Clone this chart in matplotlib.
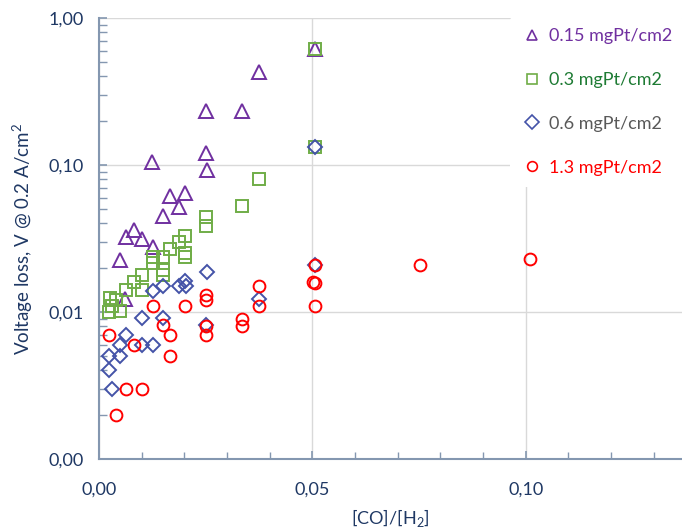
import matplotlib
matplotlib.use("Agg")
import matplotlib.pyplot as plt
from matplotlib.ticker import FixedLocator, FuncFormatter, LogLocator, NullFormatter, MultipleLocator

plt.rcParams['font.family'] = ['Lato', 'DejaVu Sans']
plt.rcParams['mathtext.fontset'] = 'custom'
plt.rcParams['mathtext.rm'] = 'Lato'

# ---- data ----
x_015 = [0.0049, 0.0060, 0.00625, 0.0083, 0.0100, 0.0124, 0.0126, 0.0151, 0.0166,
         0.0188, 0.0202, 0.0250, 0.0251, 0.0252, 0.0336, 0.0376, 0.0505]
y_015 = [0.0226, 0.0122, 0.0322, 0.0362, 0.0312, 0.104, 0.0278, 0.045, 0.0615,
         0.052, 0.064, 0.234, 0.121, 0.0925, 0.234, 0.431, 0.62]

x_03 = [0.0024, 0.0026, 0.0030, 0.0041, 0.0049, 0.00625, 0.0083, 0.0100, 0.0100,
        0.0126, 0.0126, 0.0151, 0.0151, 0.0151, 0.0166, 0.0188, 0.0202, 0.0202,
        0.0202, 0.0250, 0.0251, 0.0336, 0.0376, 0.0505, 0.0505]
y_03 = [0.0100, 0.0124, 0.0110, 0.0121, 0.0101, 0.0141, 0.0161, 0.0179, 0.0141,
        0.0237, 0.0215, 0.0236, 0.0193, 0.0179, 0.0267, 0.0300, 0.0329, 0.0251,
        0.0236, 0.0445, 0.0382, 0.0526, 0.080, 0.62, 0.133]

x_06 = [0.0024, 0.0024, 0.0030, 0.0049, 0.0049, 0.00625, 0.0100, 0.0100, 0.0126,
        0.0126, 0.0151, 0.0151, 0.0188, 0.0202, 0.0205, 0.0252, 0.0251, 0.0376,
        0.0505, 0.0505]
y_06 = [0.0050, 0.0040, 0.0030, 0.0060, 0.0050, 0.0070, 0.0091, 0.0060, 0.0140,
        0.0060, 0.0150, 0.0091, 0.0150, 0.0163, 0.0151, 0.0188, 0.0081, 0.0122,
        0.133, 0.0210]

x_13 = [0.0024, 0.0041, 0.00625, 0.0083, 0.0100, 0.0126, 0.0151, 0.0166, 0.0166,
        0.0202, 0.0250, 0.0250, 0.0251, 0.0251, 0.0336, 0.0336, 0.0376, 0.0376,
        0.0502, 0.0507, 0.0505, 0.0505, 0.0752, 0.1009]
y_13 = [0.0070, 0.0020, 0.0030, 0.0060, 0.0030, 0.0109, 0.0081, 0.0070, 0.0050,
        0.0109, 0.0131, 0.0121, 0.0080, 0.0070, 0.0089, 0.0080, 0.0150, 0.0109,
        0.0161, 0.0158, 0.0210, 0.0109, 0.0208, 0.0228]

labels = ['0.15 mgPt/cm2', '0.3 mgPt/cm2', '0.6 mgPt/cm2', '1.3 mgPt/cm2']
x_ticks = [0.00, 0.05, 0.10]
y_ticks = [0.001, 0.01, 0.1, 1.0]

# ---- styling ----
marker_cols = ['#7030A0', '#70AD47', '#4453A8', '#FF0000']
text_cols = ['#7030A0', '#1E7B34', '#595959', '#FF0000']
markers = ['^', 's', 'D', 'o']
msizes = [10, 8, 7, 8.5]
navy = '#1F3864'
spine_col = '#8497B0'
grid_col = '#D9D9D9'
fs = 13

fig = plt.figure(figsize=(6.82, 5.30), dpi=100)
ax = fig.add_axes([99/682, 1 - 459/530, 1 - 99/682, (459 - 18)/530])

series = [(x_015, y_015), (x_03, y_03), (x_06, y_06), (x_13, y_13)]
for i, (xs, ys) in enumerate(series):
    ax.plot(xs, ys, linestyle='none', marker=markers[i], markersize=msizes[i],
            markerfacecolor='none', markeredgecolor=marker_cols[i],
            markeredgewidth=1.4, label=labels[i], zorder=3 + i, clip_on=False)

ax.set_yscale('log')
ax.set_ylim(0.001, 1.0)
ax.set_xlim(0, 0.1366)

ax.yaxis.set_major_locator(FixedLocator(y_ticks))
ax.yaxis.set_minor_locator(LogLocator(base=10, subs=range(2, 10)))
ax.yaxis.set_minor_formatter(NullFormatter())
ax.yaxis.set_major_formatter(FuncFormatter(lambda v, p: f"{v:.2f}".replace('.', ',')))
ax.xaxis.set_major_locator(FixedLocator(x_ticks))
ax.xaxis.set_minor_locator(MultipleLocator(0.01))
ax.xaxis.set_major_formatter(FuncFormatter(lambda v, p: f"{v:.2f}".replace('.', ',')))

ax.grid(True, which='major', color=grid_col, linewidth=1.0, zorder=0)
ax.set_axisbelow(True)

for s in ['top', 'right']:
    ax.spines[s].set_visible(False)
for s in ['left', 'bottom']:
    ax.spines[s].set_color(spine_col)
    ax.spines[s].set_linewidth(1.5)

ax.tick_params(axis='both', which='both', direction='in', colors=spine_col,
               labelcolor=navy, labelsize=fs)
ax.tick_params(axis='y', which='major', length=6, width=1.2, pad=11)
ax.tick_params(axis='y', which='minor', length=6, width=1.0)
ax.tick_params(axis='x', which='major', length=6, width=1.2, pad=16)
ax.tick_params(axis='x', which='minor', length=5, width=1.0)

ax.set_xlabel('[CO]/[H$_2$]', color=navy, fontsize=fs, labelpad=7)
ax.set_ylabel('Voltage loss, V @ 0.2 A/cm$^2$', color=navy, fontsize=13.5, labelpad=10)

leg = ax.legend(loc='upper left', bbox_to_anchor=(510/682, 1 - 17/530),
                bbox_transform=fig.transFigure, frameon=True, facecolor='white',
                edgecolor='none', framealpha=1.0, fontsize=fs, labelspacing=1.55,
                handletextpad=0.35, handlelength=1.2, borderpad=0.6, borderaxespad=0)
for t, c in zip(leg.get_texts(), text_cols):
    t.set_color(c)
for h in leg.legend_handles:
    h.set_markersize(7)
    h.set_markeredgewidth(1.2)
leg.set_zorder(10)

fig.savefig('out.png', dpi=100)
